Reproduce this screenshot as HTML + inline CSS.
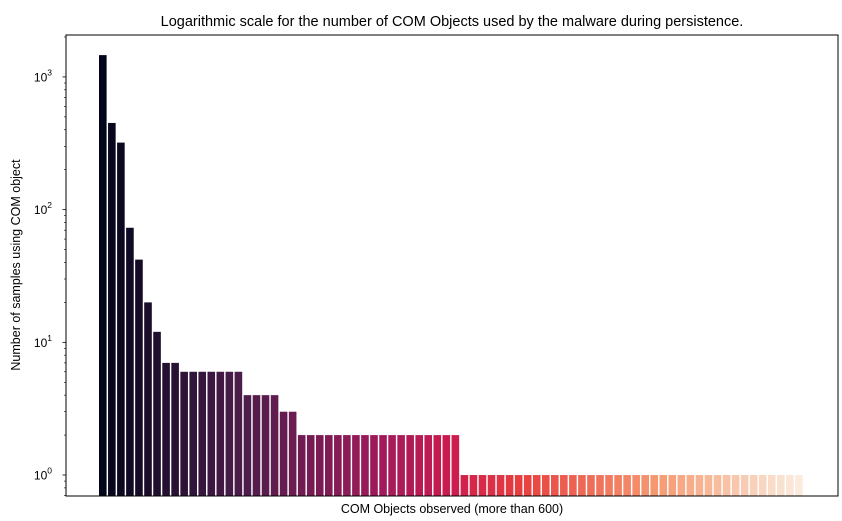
<!DOCTYPE html>
<html><head><meta charset="utf-8"><style>
html,body{margin:0;padding:0;background:#fff;}
svg{display:block;font-family:"Liberation Sans","DejaVu Sans",sans-serif;}
</style></head><body>
<svg id="chart" width="842" height="521" viewBox="0 0 842 521"></svg>
<script>
const categories = Array.from({length:78},(_,i)=>'com-group-'+(i+1));
const counts = [1460,450,320,73,42,20,12,7,7,6,6,6,6,6,6,6,4,4,4,4,3,3,2,2,2,2,2,2,2,2,2,2,2,2,2,2,2,2,2,2,
 1,1,1,1,1,1,1,1,1,1,1,1,1,1,1,1,1,1,1,1,1,1,1,1,1,1,1,1,1,1,1,1,1,1,1,1,1,1];
const yTickValues = [1,10,100,1000];
const yTickExps = ['0','1','2','3'];

const NS='http://www.w3.org/2000/svg';
const svg=document.getElementById('chart');
const L=66,R=838,T=35,B=496;
const yMin=Math.log10(0.695), yMax=Math.log10(2070);
function y(v){return B-(Math.log10(v)-yMin)/(yMax-yMin)*(B-T);}
const x0=99, slot=9.04;
function x(i){return x0+i*slot;}
function mk(tag,attrs,parent){const e=document.createElementNS(NS,tag);for(const k in attrs)e.setAttribute(k,attrs[k]);(parent||svg).appendChild(e);return e;}
const stops=[[0,[3,5,26]],[0.2,[76,29,75]],[0.4,[161,26,91]],[0.5,[203,27,79]],[0.6,[232,63,63]],[0.8,[246,156,115]],[1,[250,235,221]]];
function rocket(t){for(let k=1;k<stops.length;k++){if(t<=stops[k][0]){const a=stops[k-1],b=stops[k];const f=(t-a[0])/(b[0]-a[0]);const c=a[1].map((v,j)=>Math.round(v+(b[1][j]-v)*f));return 'rgb('+c.join(',')+')';}}return 'rgb(250,235,221)';}

const g=mk('g',{});


counts.forEach((v,i)=>{
  const r=mk('rect',{x:x(i),y:y(v),width:7.6,height:B-y(v),fill:rocket(i/(counts.length-1))},g);
  
  
});
const frame=mk('rect',{x:L,y:T,width:R-L,height:B-T,fill:'none',stroke:'#000','stroke-width':1});


// minor ticks
for(let d=0;d<4;d++){for(let m=2;m<=9;m++){const v=m*Math.pow(10,d-1+ (d===0?0:0));}}
for(let e=-1;e<=3;e++){for(let m=2;m<=9;m++){const v=m*Math.pow(10,e);const yy=y(v);if(yy<T||yy>B)continue;
 const t=mk('line',{x1:L-2,x2:L,y1:yy,y2:yy,stroke:'#000','stroke-width':0.6});
 
 }}
yTickValues.forEach((v,i)=>{
  const yy=y(v);
  const t=mk('line',{x1:L-3.5,x2:L,y1:yy,y2:yy,stroke:'#000','stroke-width':0.8});
  
  
  const tx=mk('text',{x:L-22,y:yy+4.5,'font-size':12,'text-anchor':'end',fill:'#000'});
  
  
  tx.textContent='10';
  const s=mk('tspan',{dy:-6,'font-size':8.5},tx);
  s.textContent=yTickExps[i];
  tx.setAttribute('x',L-14);
});
const title=mk('text',{x:452,y:26,'font-size':14.5,'text-anchor':'middle',fill:'#000'});


title.textContent='Logarithmic scale for the number of COM Objects used by the malware during persistence.';
const xl=mk('text',{x:452,y:513,'font-size':12.5,'text-anchor':'middle',fill:'#000'});


xl.textContent='COM Objects observed (more than 600)';
const yl=mk('text',{x:0,y:0,'font-size':12.5,'text-anchor':'middle',fill:'#000',transform:'translate(20,265) rotate(-90)'});


yl.textContent='Number of samples using COM object';
</script>
</body></html>
